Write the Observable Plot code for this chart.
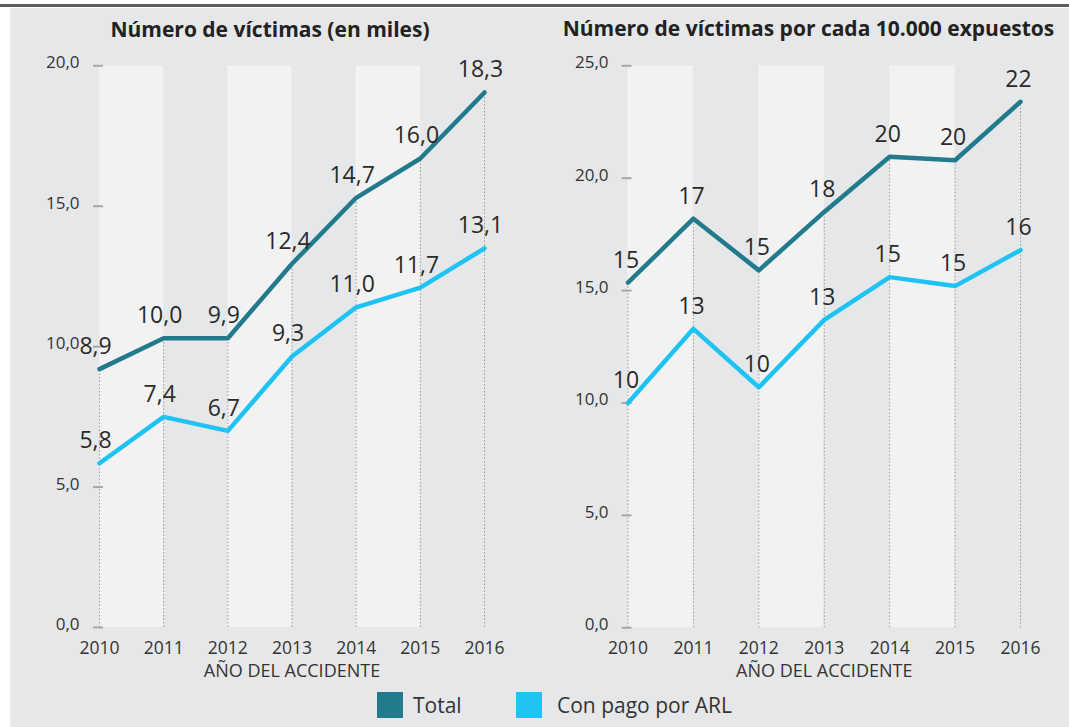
<!DOCTYPE html>
<html><head><meta charset="utf-8">
<script src="https://cdn.jsdelivr.net/npm/d3@7"></script>
<script src="https://cdn.jsdelivr.net/npm/@observablehq/plot@0.6"></script>
<style>
body{margin:0;background:#fff;font-family:"Open Sans",sans-serif;}
#wrap{position:relative;width:1069px;height:727px;overflow:hidden;background:#fff;}
#topline{position:absolute;left:0;top:4px;width:1069px;height:3px;background:#5c5c5c;}
#panel{position:absolute;left:10px;top:8px;right:0;bottom:0;background:#e6e7e9;}
.title{position:absolute;font-weight:700;font-size:21px;line-height:21px;color:#222;text-align:center;white-space:nowrap;}
.chart{position:absolute;top:0;}
.sw{position:absolute;width:26px;height:26px;top:692px;}
.lg{position:absolute;top:695px;font-size:21px;line-height:21px;color:#333;white-space:nowrap;}
</style></head><body>
<div id="wrap">
  <div id="topline"></div>
  <div id="panel"></div>
  <div class="chart" id="c1" style="left:0px"></div>
  <div class="chart" id="c2" style="left:540px"></div>
  <div class="title" style="left:0px;width:540px;top:19px">Número de víctimas (en miles)</div>
  <div class="title" style="left:540px;width:537px;top:18px">Número de víctimas por cada 10.000 expuestos</div>
  <div class="sw" style="left:377px;background:#217b8c"></div>
  <div class="lg" style="left:413px">Total</div>
  <div class="sw" style="left:516px;background:#1fc3f3"></div>
  <div class="lg" style="left:557px">Con pago por ARL</div>
</div>
<script>
const years = [2010, 2011, 2012, 2013, 2014, 2015, 2016];
const xTitle = "AÑO DEL ACCIDENTE";
const seriesNames = ["Total", "Con pago por ARL"];

// Left chart: number of victims (thousands)
const totalMiles = [9.2, 10.3, 10.3, 12.95, 15.3, 16.7, 19.05];
const arlMiles = [5.85, 7.5, 7.0, 9.65, 11.4, 12.1, 13.5];
const totalMilesLabels = ["8,9", "10,0", "9,9", "12,4", "14,7", "16,0", "18,3"];
const arlMilesLabels = ["5,8", "7,4", "6,7", "9,3", "11,0", "11,7", "13,1"];
const yTicksMiles = [0, 5, 10, 15, 20];

// Right chart: victims per 10.000 exposed
const totalRate = [15.35, 18.2, 15.9, 18.5, 20.95, 20.8, 23.4];
const arlRate = [10.0, 13.3, 10.7, 13.7, 15.6, 15.2, 16.8];
const totalRateLabels = ["15", "17", "15", "18", "20", "20", "22"];
const arlRateLabels = ["10", "13", "10", "13", "15", "15", "16"];
const yTicksRate = [0, 5, 10, 15, 20, 25];

const colorTotal = "#217b8c";
const colorArl = "#1fc3f3";

function makeChart(o) {
  const rows = years.map((year, i) => ({
    year, total: o.totals[i], arl: o.arls[i],
    totalLabel: o.totalLabels[i], arlLabel: o.arlLabels[i]
  }));
  const yMax = o.yTicks[o.yTicks.length - 1];
  const bandStarts = years.filter((y, i) => i % 2 === 0 && i < years.length - 1);
  const fmt = d => d.toFixed(1).replace(".", ",");
  return Plot.plot({
    width: o.width,
    height: 700,
    marginLeft: o.marginLeft,
    marginRight: o.marginRight,
    marginTop: o.marginTop,
    marginBottom: 700 - o.bottomY,
    style: {background: "transparent", fontFamily: "Open Sans", overflow: "visible"},
    x: {type: "linear", domain: [years[0], years[years.length - 1]]},
    y: {domain: [0, yMax]},
    marks: [
      Plot.rect(bandStarts, {x1: d => d, x2: d => d + 1, y1: 0, y2: yMax, fill: "#f2f2f2"}),
      Plot.ruleX(rows, {x: "year", y1: 0, y2: "total", stroke: "#9a9a9a", strokeWidth: 1, strokeDasharray: "1.5,2"}),
      Plot.axisY({ticks: o.yTicks, tickSize: 10, dx: 4, tickFormat: () => "", stroke: "#a8a8a8", strokeWidth: 2}),
      Plot.axisY({ticks: o.yTicks, tickSize: 0, tickPadding: o.yPad, dy: -3, tickFormat: fmt, fontSize: 17, fill: "#333", label: null}),
      Plot.axisX({ticks: years, tickSize: 0, tickPadding: 14, tickFormat: d => String(d), fontSize: 17.5, fill: "#333", label: null}),
      Plot.text([xTitle], {frameAnchor: "bottom", text: d => d, dy: 49, fontSize: 18, fill: "#333"}),
      Plot.line(rows, {x: "year", y: "arl", stroke: colorArl, strokeWidth: 4.5, strokeLinejoin: "round", strokeLinecap: "round"}),
      Plot.line(rows, {x: "year", y: "total", stroke: colorTotal, strokeWidth: 4.5, strokeLinejoin: "round", strokeLinecap: "round"}),
      Plot.text(rows, {x: "year", y: "total", text: "totalLabel", dy: -15, dx: o.labelDx, lineAnchor: "bottom", fontSize: 23, fill: "#2a2a2a"}),
      Plot.text(rows, {x: "year", y: "arl", text: "arlLabel", dy: -15, dx: o.labelDx, lineAnchor: "bottom", fontSize: 23, fill: "#2a2a2a"})
    ]
  });
}

document.getElementById("c1").appendChild(makeChart({
  totals: totalMiles, arls: arlMiles, totalLabels: totalMilesLabels, arlLabels: arlMilesLabels,
  yTicks: yTicksMiles, width: 540, marginLeft: 99, marginRight: 56, marginTop: 65.3, bottomY: 627,
  yPad: 20, labelDx: -4
}));
document.getElementById("c2").appendChild(makeChart({
  totals: totalRate, arls: arlRate, totalLabels: totalRateLabels, arlLabels: arlRateLabels,
  yTicks: yTicksRate, width: 529, marginLeft: 87.5, marginRight: 49, marginTop: 65.3, bottomY: 627.3,
  yPad: 19.5, labelDx: -2
}));
</script>
</body></html>
